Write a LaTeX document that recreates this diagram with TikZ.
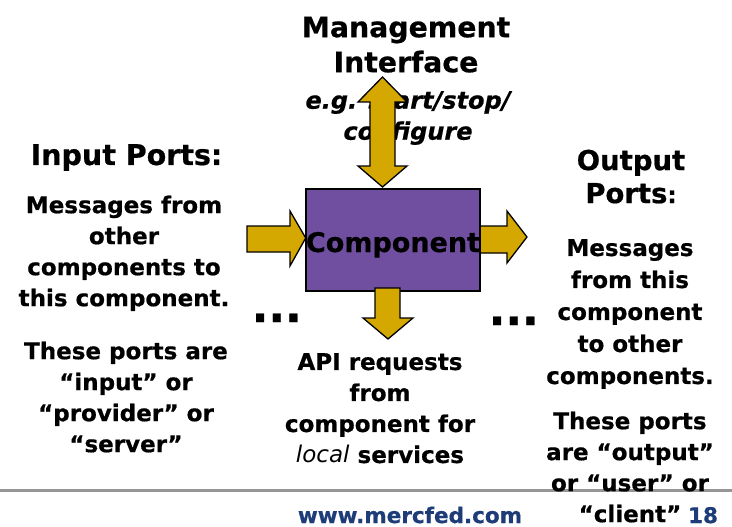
\documentclass[tikz,border=0pt]{standalone}
\usepackage{fontspec}
\setmainfont{DejaVu Sans}[BoldFeatures={FakeBold=0.6}, BoldItalicFeatures={FakeBold=0.6}]
\definecolor{comppurple}{RGB}{112,78,160}
\definecolor{arrowgold}{RGB}{212,168,0}
\definecolor{urlblue}{RGB}{30,60,120}
\definecolor{rulegray}{RGB}{150,150,150}
\tikzset{
  txt/.style={align=center, inner sep=0pt, anchor=north, font=\bfseries\fontsize{23}{31}\selectfont},
  blockarrow/.style={fill=arrowgold, draw=black, line width=1.3pt, line join=miter},
  dotsnode/.style={font=\bfseries\fontsize{44}{44}\selectfont, inner sep=0pt, anchor=base west},
  footer/.style={font=\bfseries\fontsize{21.5}{21.5}\selectfont, text=urlblue, inner sep=0pt, anchor=base},
}
\begin{document}
\begin{tikzpicture}[x=1pt, y=-1pt]
\useasboundingbox (0,0) rectangle (732,527);
% top texts
\node[txt, font=\bfseries\fontsize{28.3}{35}\selectfont] (mgmt) at (406,16.4) {Management\\Interface};
\node[txt, font=\bfseries\itshape\fontsize{24}{31}\selectfont] (eg) at (408,91) {e.g. start/stop/\\configure};
% left column
\node[txt, font=\bfseries\fontsize{28.5}{35}\selectfont] (inhead) at (126.5,144) {Input Ports:};
\node[txt] (inmsg) at (124,195.5) {Messages from\\other\\components to\\this component.};
\node[txt] (inkind) at (126,341.5) {These ports are\\“input” or\\“provider” or\\“server”};
% bottom middle
\node[txt] (api) at (380,353) {API requests\\from\\component for\\{\mdseries\itshape local} services};
% right column
\node[txt, font=\bfseries\fontsize{27.5}{33}\selectfont] (outhead) at (631,149.5) {Output\\Ports{\fontsize{23}{23}\selectfont:}};
\node[txt, font=\bfseries\fontsize{23}{32}\selectfont] (outmsg) at (630,239) {Messages\\from this\\component\\to other\\components.};
% rule
\coordinate (ruleL) at (0,490.7);
\coordinate (ruleR) at (732,490.7);
\draw[rulegray, line width=2.7pt] (ruleL) -- (ruleR);
\node[txt] (outkind) at (630,411.5) {These ports\\are “output”\\or “user” or\\“client”};
% side arrows (behind the box)
\draw[blockarrow] (305.7,238) -- (290,211) -- (290,226) -- (247,226) -- (247,252) -- (290,252) -- (290,266) -- cycle;
\draw[blockarrow] (474,226) -- (507,226) -- (507,211) -- (527,237) -- (507,263) -- (507,253) -- (474,253) -- cycle;
% component
\node[draw=black, line width=1.5pt, fill=comppurple, minimum width=174.3pt, minimum height=101.7pt,
      inner sep=0pt, font=\bfseries\fontsize{27}{30}\selectfont, text height=24pt, text depth=0pt]
      (comp) at (393,240) {\makebox[0pt][c]{Component}};
% down arrow
\draw[blockarrow] (375,288) -- (400,288) -- (400,318) -- (413,318) -- (388,339) -- (363,318) -- (375,318) -- cycle;
% top double arrow
\draw[blockarrow] (382.5,77) -- (407,102) -- (395,102) -- (395,166) -- (407,166) -- (382.5,187) -- (358,166) -- (370,166) -- (370,102) -- (358,102) -- cycle;
% dots
\node[dotsnode] (ldots) at (251.5,322) {...};
\node[dotsnode] (rdots) at (488.5,325) {...};
% footer
\node[footer] (url) at (410,523) {www.mercfed.com};
\node[footer] (pnum) at (703,523) {18};
\end{tikzpicture}
\end{document}
